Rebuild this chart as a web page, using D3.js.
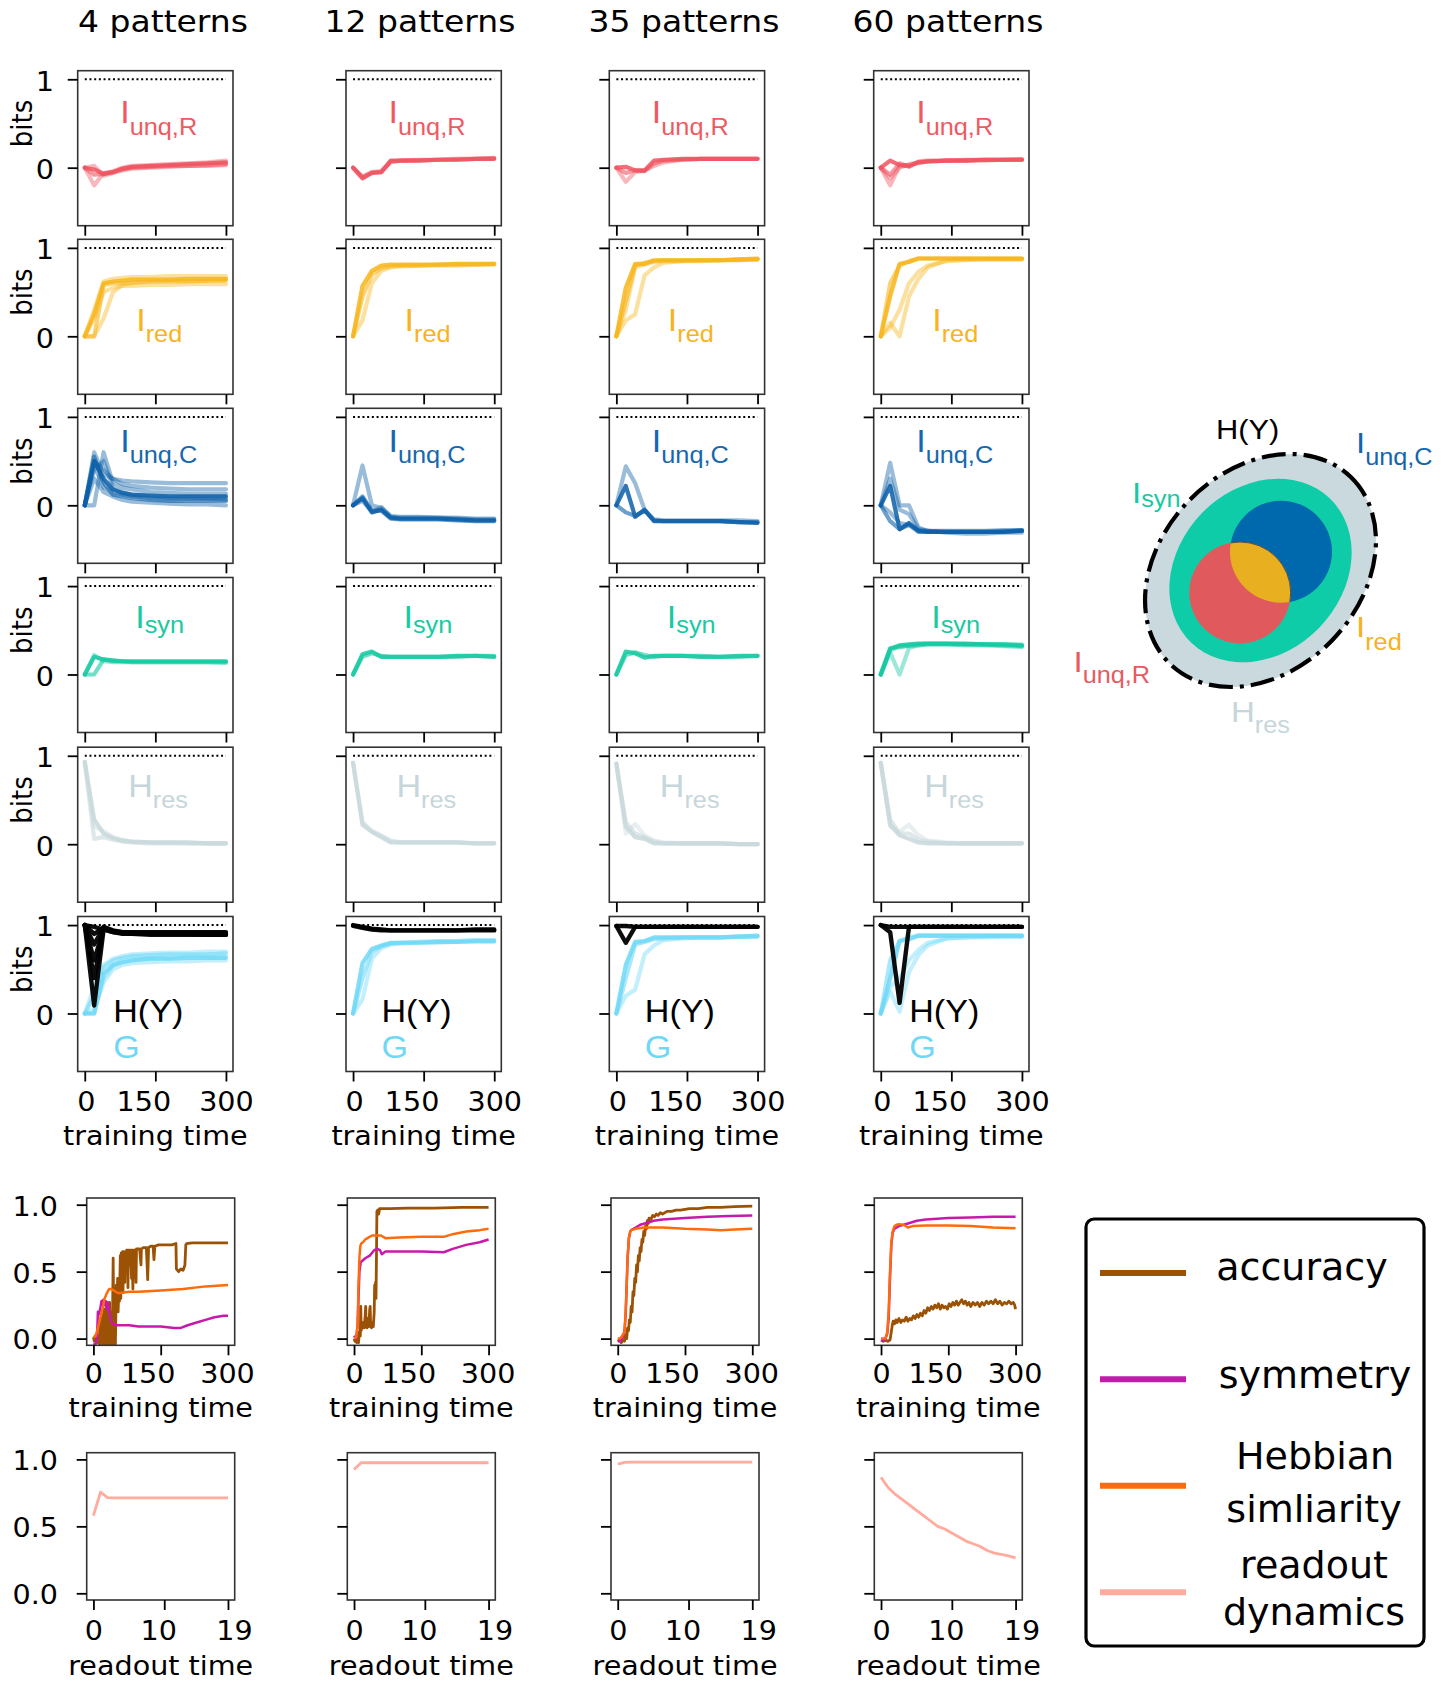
<!DOCTYPE html>
<html>
<head>
<meta charset="utf-8">
<script src="https://cdn.jsdelivr.net/npm/d3@7"></script>
<style>
  html, body { margin: 0; padding: 0; background: #fff; }
  svg { display: block; font-family: "DejaVu Sans", sans-serif; }
</style>
</head>
<body>
<script>
// ---------------- data ----------------
const PATTERNS = ["4 patterns", "12 patterns", "35 patterns", "60 patterns"];
const TRAIN_T = [0, 20, 40, 60, 80, 100, 140, 180, 220, 260, 300];
const TRAIN_TICKS = [0, 150, 300];
const READ_TICKS = [0, 10, 19];
const BIT_TICKS = [0, 1];
const FRAC_TICKS = [0, 0.5, 1.0];

// information decomposition per column (runs x TRAIN_T samples)
const I_UNQ_R = [
  [[0,-0.02,-0.07,-0.05,-0.01,0.01,0.02,0.03,0.04,0.05,0.06],
   [0,-0.08,-0.07,-0.05,-0.02,0.0,0.01,0.02,0.02,0.03,0.04],
   [0,0.02,-0.09,-0.06,-0.03,-0.01,0.0,0.01,0.02,0.02,0.03],
   [0,-0.2,-0.06,-0.04,0.0,0.02,0.03,0.04,0.05,0.06,0.08]],
  [[0,-0.12,-0.06,-0.05,0.08,0.08,0.08,0.09,0.09,0.1,0.1],
   [0,-0.1,-0.05,-0.04,0.07,0.08,0.09,0.09,0.1,0.1,0.11],
   [0,-0.11,-0.06,-0.05,0.06,0.08,0.08,0.09,0.09,0.1,0.1]],
  [[0,0.01,-0.03,-0.03,0.08,0.09,0.1,0.1,0.1,0.1,0.1],
   [0,-0.06,-0.03,-0.04,0.05,0.08,0.09,0.1,0.1,0.1,0.1],
   [0,-0.16,-0.05,-0.03,0.02,0.06,0.09,0.1,0.1,0.1,0.1]],
  [[0,0.08,0.03,0.02,0.06,0.07,0.08,0.08,0.09,0.09,0.09],
   [0,-0.08,0.05,0.01,0.07,0.08,0.08,0.09,0.09,0.09,0.09],
   [0,-0.12,0.0,0.04,0.06,0.07,0.08,0.08,0.09,0.09,0.1],
   [0,-0.2,0.02,0.03,0.05,0.07,0.08,0.08,0.08,0.09,0.09]]
];
const I_RED = [
  [[0,0.25,0.6,0.62,0.63,0.64,0.64,0.64,0.65,0.65,0.65],
   [0,0.0,0.58,0.6,0.6,0.61,0.62,0.62,0.62,0.63,0.63],
   [0,0.3,0.62,0.65,0.66,0.67,0.67,0.68,0.68,0.68,0.68],
   [0,0.2,0.5,0.55,0.57,0.57,0.58,0.58,0.59,0.59,0.59],
   [0,0.0,0.2,0.5,0.58,0.6,0.62,0.63,0.63,0.63,0.64]],
  [[0,0.57,0.74,0.8,0.81,0.81,0.81,0.81,0.82,0.82,0.82],
   [0,0.45,0.7,0.77,0.79,0.8,0.8,0.81,0.81,0.81,0.82],
   [0,0.18,0.6,0.74,0.78,0.79,0.8,0.8,0.8,0.81,0.81]],
  [[0,0.55,0.82,0.82,0.86,0.86,0.86,0.86,0.86,0.87,0.88],
   [0,0.4,0.8,0.83,0.85,0.86,0.86,0.86,0.86,0.87,0.87],
   [0,0.3,0.78,0.81,0.84,0.85,0.85,0.86,0.86,0.86,0.87],
   [0,0.18,0.25,0.69,0.78,0.83,0.85,0.85,0.86,0.86,0.87]],
  [[0,0.45,0.82,0.84,0.88,0.88,0.88,0.88,0.88,0.88,0.88],
   [0,0.6,0.8,0.85,0.88,0.88,0.88,0.88,0.88,0.88,0.88],
   [0,0.1,0.3,0.6,0.73,0.8,0.85,0.86,0.87,0.87,0.87],
   [0,0.15,0.0,0.45,0.65,0.78,0.86,0.87,0.87,0.87,0.87]]
];
const I_UNQ_C = [
  [[0,0.5,0.3,0.18,0.14,0.12,0.11,0.1,0.1,0.1,0.1],
   [0,0.55,0.25,0.12,0.1,0.08,0.06,0.05,0.05,0.05,0.05],
   [0,0.6,0.35,0.3,0.28,0.27,0.26,0.25,0.25,0.25,0.25],
   [0,0.5,0.4,0.3,0.24,0.22,0.2,0.19,0.18,0.18,0.18],
   [0,0.0,0.6,0.25,0.2,0.18,0.15,0.14,0.13,0.13,0.13],
   [0,0.45,0.2,0.15,0.12,0.1,0.08,0.07,0.07,0.07,0.06],
   [0,0.4,0.5,0.2,0.15,0.12,0.1,0.09,0.09,0.08,0.08],
   [0,0.3,0.15,0.1,0.06,0.04,0.03,0.02,0.01,0.01,0.0]],
  [[0,0.08,-0.08,-0.05,-0.14,-0.15,-0.15,-0.15,-0.16,-0.17,-0.17],
   [0,0.1,-0.06,-0.06,-0.15,-0.16,-0.16,-0.16,-0.17,-0.18,-0.18],
   [0,0.05,-0.07,-0.02,-0.13,-0.14,-0.14,-0.14,-0.15,-0.16,-0.16],
   [0,0.45,0.0,-0.03,-0.12,-0.13,-0.13,-0.14,-0.14,-0.15,-0.15]],
  [[0,0.22,-0.13,-0.05,-0.18,-0.18,-0.18,-0.18,-0.18,-0.19,-0.2],
   [0,-0.08,-0.12,-0.06,-0.17,-0.18,-0.18,-0.18,-0.18,-0.19,-0.19],
   [0,0.44,0.25,-0.05,-0.16,-0.17,-0.17,-0.17,-0.17,-0.17,-0.18]],
  [[0,0.22,-0.27,-0.2,-0.29,-0.3,-0.3,-0.3,-0.3,-0.3,-0.29],
   [0,-0.18,-0.27,-0.22,-0.3,-0.3,-0.3,-0.3,-0.3,-0.3,-0.28],
   [0,-0.08,-0.2,-0.22,-0.28,-0.29,-0.31,-0.32,-0.32,-0.31,-0.31],
   [0,0.3,-0.05,-0.1,-0.27,-0.29,-0.29,-0.29,-0.29,-0.28,-0.28],
   [0,0.48,0.0,0.0,-0.25,-0.29,-0.3,-0.3,-0.3,-0.29,-0.29]]
];
const I_SYN = [
  [[0,0.2,0.17,0.16,0.15,0.15,0.15,0.15,0.15,0.15,0.15],
   [0,0.0,0.17,0.15,0.15,0.14,0.14,0.14,0.14,0.14,0.14],
   [0,0.22,0.15,0.14,0.14,0.14,0.14,0.14,0.14,0.14,0.13]],
  [[0,0.23,0.26,0.2,0.2,0.2,0.2,0.2,0.21,0.21,0.2],
   [0,0.2,0.24,0.21,0.2,0.2,0.2,0.2,0.2,0.21,0.21]],
  [[0,0.26,0.24,0.19,0.21,0.21,0.21,0.2,0.2,0.21,0.21],
   [0,0.22,0.25,0.22,0.2,0.21,0.21,0.21,0.2,0.2,0.21]],
  [[0,0.29,0.33,0.34,0.35,0.35,0.35,0.35,0.34,0.34,0.33],
   [0,0.3,0.31,0.33,0.34,0.35,0.35,0.34,0.34,0.33,0.32],
   [0,0.27,0.32,0.32,0.33,0.34,0.34,0.34,0.34,0.34,0.34],
   [0,0.25,0.0,0.3,0.33,0.34,0.34,0.33,0.33,0.32,0.31]]
];
const H_RES = [
  [[0.93,0.28,0.12,0.07,0.04,0.03,0.02,0.02,0.02,0.01,0.01],
   [0.93,0.06,0.08,0.05,0.03,0.02,0.01,0.01,0.01,0.01,0.01],
   [0.93,0.2,0.15,0.08,0.05,0.03,0.02,0.02,0.01,0.01,0.01]],
  [[0.92,0.22,0.14,0.08,0.02,0.02,0.02,0.02,0.02,0.01,0.01],
   [0.92,0.25,0.15,0.1,0.04,0.02,0.02,0.02,0.02,0.01,0.01]],
  [[0.91,0.2,0.08,0.06,0.01,0.01,0.01,0.01,0.01,0.0,0.0],
   [0.91,0.25,0.12,0.08,0.03,0.01,0.01,0.01,0.01,0.0,0.0],
   [0.91,0.12,0.23,0.1,0.04,0.02,0.01,0.01,0.01,0.0,0.0]],
  [[0.92,0.22,0.1,0.06,0.02,0.01,0.01,0.01,0.01,0.01,0.01],
   [0.92,0.28,0.12,0.12,0.05,0.03,0.01,0.01,0.01,0.01,0.01],
   [0.92,0.2,0.14,0.22,0.1,0.04,0.02,0.01,0.01,0.01,0.01]]
];
const G_INFO = [
  [[0,0.0,0.45,0.55,0.58,0.6,0.62,0.62,0.63,0.63,0.63],
   [0,0.2,0.52,0.6,0.63,0.65,0.66,0.67,0.67,0.67,0.68],
   [0,0.05,0.35,0.5,0.55,0.57,0.58,0.59,0.59,0.6,0.6],
   [0,0.3,0.55,0.62,0.65,0.67,0.68,0.69,0.69,0.7,0.7],
   [0,0.0,0.4,0.54,0.6,0.62,0.63,0.64,0.65,0.65,0.65]],
  [[0,0.57,0.73,0.77,0.8,0.8,0.8,0.81,0.81,0.82,0.82],
   [0,0.4,0.7,0.76,0.79,0.8,0.81,0.82,0.82,0.83,0.83],
   [0,0.16,0.62,0.74,0.78,0.79,0.8,0.8,0.81,0.81,0.81]],
  [[0,0.55,0.81,0.82,0.86,0.86,0.86,0.86,0.86,0.87,0.88],
   [0,0.4,0.78,0.81,0.84,0.85,0.86,0.86,0.86,0.87,0.87],
   [0,0.2,0.27,0.67,0.77,0.83,0.85,0.86,0.86,0.87,0.87]],
  [[0,0.4,0.82,0.84,0.88,0.88,0.88,0.88,0.88,0.88,0.88],
   [0,0.6,0.82,0.86,0.88,0.88,0.88,0.88,0.88,0.88,0.88],
   [0,0.3,0.4,0.6,0.72,0.8,0.85,0.86,0.86,0.87,0.87],
   [0,0.25,0.02,0.47,0.66,0.77,0.85,0.86,0.87,0.87,0.87]]
];
const H_Y = [
  [[1.0,0.09,0.95,0.92,0.91,0.91,0.9,0.9,0.9,0.9,0.9],
   [1.0,0.4,0.97,0.93,0.92,0.91,0.91,0.91,0.91,0.91,0.91],
   [1.0,0.6,0.96,0.93,0.91,0.9,0.9,0.9,0.9,0.89,0.89],
   [1.0,0.78,0.98,0.94,0.92,0.92,0.92,0.92,0.92,0.92,0.92],
   [1.0,0.9,0.97,0.93,0.91,0.9,0.9,0.9,0.9,0.9,0.9],
   [1.0,0.98,0.95,0.92,0.9,0.9,0.89,0.89,0.89,0.89,0.89]],
  [[0.99,0.97,0.95,0.94,0.94,0.94,0.94,0.94,0.94,0.94,0.94],
   [1.0,0.98,0.96,0.95,0.94,0.94,0.94,0.94,0.94,0.95,0.95]],
  [[0.99,0.8,0.98,0.98,0.98,0.98,0.98,0.98,0.98,0.98,0.98],
   [0.99,0.99,0.98,0.98,0.98,0.98,0.98,0.98,0.98,0.98,0.98]],
  [[1.0,0.92,0.12,0.98,0.98,0.98,0.98,0.98,0.98,0.98,0.98],
   [1.0,0.98,0.98,0.98,0.98,0.98,0.98,0.98,0.98,0.98,0.98]]
];

// training metrics per column, [training time, value]
const ACCURACY = [
  [[0,0.01],[2,-0.02],[4,0.02],[6,-0.01],[8,0.01],[10,-0.03],[12,0.02],[13,-0.04],[15,0.12],[16,-0.04],[18,0.18],[19,0.0],[21,0.08],[22,-0.04],[24,0.22],[25,0.02],[27,-0.04],[29,0.27],[30,0.05],[31,-0.04],[33,0.15],[34,-0.04],[36,0.27],[37,0.02],[39,-0.04],[41,0.2],[42,-0.04],[44,0.6],[45,0.25],[46,-0.04],[48,0.32],[49,-0.04],[51,0.4],[52,0.22],[54,0.45],[55,0.2],[57,0.38],[58,0.28],[60,0.62],[61,0.3],[62,0.64],[63,0.45],[65,0.65],[66,0.35],[67,0.65],[69,0.64],[70,0.42],[71,0.65],[73,0.5],[74,0.66],[76,0.66],[77,0.38],[78,0.66],[80,0.55],[81,0.66],[83,0.66],[85,0.45],[86,0.66],[88,0.37],[89,0.66],[92,0.66],[95,0.42],[96,0.67],[100,0.67],[103,0.67],[106,0.55],[107,0.67],[112,0.68],[118,0.68],[121,0.44],[123,0.68],[128,0.69],[133,0.69],[135,0.59],[137,0.69],[145,0.7],[160,0.7],[175,0.7],[184,0.71],[185,0.52],[190,0.5],[195,0.52],[200,0.51],[204,0.55],[206,0.7],[208,0.71],[220,0.715],[250,0.715],[300,0.715]],
  [[0,0.0],[2,-0.02],[4,0.0],[6,-0.03],[8,0.02],[10,-0.03],[12,0.05],[14,0.02],[15,0.24],[16,0.06],[18,0.1],[19,0.08],[21,0.12],[23,0.08],[25,0.18],[26,0.24],[27,0.1],[29,0.08],[31,0.15],[33,0.09],[35,0.22],[36,0.24],[37,0.1],[39,0.08],[41,0.12],[43,0.09],[45,0.2],[46,0.4],[47,0.3],[48,0.42],[49,0.3],[50,0.6],[51,0.95],[53,0.96],[55,0.93],[57,0.97],[60,0.97],[80,0.97],[120,0.975],[180,0.975],[240,0.98],[300,0.98]],
  [[0,-0.02],[4,-0.01],[8,-0.03],[12,-0.01],[15,-0.02],[18,0.03],[20,0.0],[22,0.08],[24,0.06],[26,0.14],[28,0.12],[30,0.24],[32,0.2],[34,0.35],[36,0.32],[38,0.45],[40,0.42],[42,0.55],[44,0.5],[46,0.62],[48,0.58],[50,0.68],[52,0.65],[54,0.74],[56,0.72],[58,0.8],[60,0.77],[62,0.84],[64,0.82],[66,0.88],[68,0.86],[70,0.9],[74,0.89],[78,0.92],[82,0.91],[86,0.93],[90,0.92],[95,0.94],[100,0.93],[110,0.95],[120,0.95],[130,0.96],[140,0.96],[160,0.97],[180,0.97],[200,0.98],[230,0.98],[260,0.985],[300,0.99]],
  [[0,-0.01],[5,-0.02],[10,-0.01],[15,-0.02],[20,-0.01],[22,0.03],[25,0.1],[27,0.13],[30,0.11],[33,0.14],[36,0.12],[40,0.15],[44,0.12],[48,0.14],[52,0.13],[56,0.16],[60,0.13],[64,0.15],[68,0.14],[72,0.17],[76,0.15],[80,0.18],[84,0.16],[88,0.19],[92,0.17],[96,0.21],[100,0.19],[104,0.23],[108,0.21],[112,0.24],[116,0.22],[120,0.25],[124,0.23],[128,0.26],[132,0.22],[136,0.25],[140,0.23],[144,0.24],[148,0.22],[152,0.26],[156,0.24],[160,0.27],[164,0.25],[168,0.28],[172,0.25],[176,0.27],[180,0.29],[184,0.26],[188,0.28],[192,0.25],[196,0.27],[200,0.24],[205,0.27],[210,0.25],[215,0.27],[220,0.24],[225,0.27],[230,0.25],[235,0.28],[240,0.26],[245,0.28],[250,0.26],[255,0.29],[260,0.26],[265,0.28],[270,0.25],[275,0.27],[280,0.26],[285,0.28],[290,0.26],[295,0.27],[298,0.25],[300,0.22]]
];
const SYMMETRY = [
  [[0,-0.04],[5,-0.04],[8,0.0],[10,0.2],[12,0.18],[15,0.22],[18,0.28],[20,0.26],[22,0.29],[25,0.25],[28,0.28],[30,0.22],[32,0.27],[35,0.2],[38,0.15],[40,0.13],[43,0.11],[45,0.11],[50,0.1],[60,0.1],[80,0.1],[100,0.09],[120,0.09],[150,0.09],[180,0.08],[195,0.08],[210,0.1],[230,0.12],[250,0.14],[270,0.16],[290,0.17],[300,0.17]],
  [[0,0.02],[5,0.0],[8,0.1],[10,0.3],[12,0.5],[15,0.57],[18,0.58],[25,0.6],[35,0.62],[45,0.66],[52,0.67],[58,0.66],[62,0.63],[70,0.65],[100,0.65],[150,0.65],[200,0.645],[220,0.67],[250,0.7],[280,0.72],[300,0.74]],
  [[0,-0.02],[5,-0.02],[10,0.0],[15,0.05],[18,0.2],[20,0.4],[22,0.6],[25,0.75],[28,0.8],[30,0.81],[40,0.83],[50,0.85],[60,0.86],[80,0.88],[100,0.89],[150,0.9],[200,0.91],[250,0.915],[300,0.92]],
  [[0,-0.01],[5,-0.01],[10,0.0],[14,0.04],[17,0.15],[20,0.45],[23,0.7],[26,0.79],[30,0.82],[35,0.83],[40,0.84],[60,0.86],[80,0.88],[100,0.89],[150,0.9],[200,0.905],[250,0.91],[300,0.91]]
];
const HEBBIAN = [
  [[0,0.01],[5,0.02],[10,0.08],[15,0.15],[20,0.22],[25,0.3],[30,0.34],[35,0.37],[40,0.37],[45,0.36],[50,0.35],[55,0.34],[60,0.34],[80,0.35],[100,0.35],[150,0.36],[200,0.37],[250,0.39],[300,0.4]],
  [[0,0.0],[5,0.01],[8,0.1],[10,0.4],[12,0.6],[14,0.69],[16,0.71],[20,0.72],[25,0.74],[30,0.75],[40,0.77],[50,0.77],[60,0.77],[70,0.75],[100,0.755],[150,0.76],[200,0.76],[220,0.78],[250,0.8],[280,0.81],[300,0.82]],
  [[0,0.0],[5,0.0],[10,0.02],[15,0.05],[17,0.15],[20,0.4],[22,0.6],[25,0.76],[28,0.8],[30,0.81],[40,0.82],[60,0.83],[100,0.83],[150,0.82],[200,0.815],[230,0.81],[260,0.815],[300,0.82]],
  [[0,0.0],[5,0.0],[10,0.0],[14,0.05],[17,0.2],[20,0.5],[23,0.72],[26,0.8],[30,0.84],[35,0.85],[40,0.855],[50,0.85],[60,0.83],[70,0.84],[100,0.845],[150,0.845],[200,0.84],[250,0.83],[300,0.825]]
];
// readout dynamics per column, one value per readout step 0..19
const READOUT = [
  [0.58,0.755,0.715,0.713,0.712,0.712,0.712,0.712,0.712,0.712,0.712,0.712,0.712,0.712,0.712,0.712,0.712,0.712,0.712,0.712],
  [0.925,0.975,0.975,0.975,0.975,0.975,0.975,0.975,0.975,0.975,0.975,0.975,0.975,0.975,0.975,0.975,0.975,0.975,0.975,0.975],
  [0.965,0.977,0.98,0.98,0.98,0.98,0.98,0.98,0.98,0.98,0.98,0.98,0.98,0.98,0.98,0.98,0.98,0.98,0.98,0.98],
  [0.866,0.79,0.74,0.7,0.66,0.62,0.58,0.54,0.5,0.48,0.45,0.42,0.39,0.37,0.35,0.32,0.3,0.29,0.28,0.265]
];
const LEGEND_LABELS = [["accuracy"], ["symmetry"], ["Hebbian", "simliarity"], ["readout", "dynamics"]];

// ---------------- styling / layout ----------------
const C = {
  unqR: "#ef5460", red: "#f7b51b", unqC: "#0c5fa8", syn: "#13c9a1", res: "#c8d8dc",
  g: "#6fd8f7", hy: "#000000",
  acc: "#9b5205", sym: "#c71aab", heb: "#ff6b0a", ro: "#ffab9d"
};
const SX = 1.1;                       // horizontal text stretch for the figure
const LABEL_FONT = "'Liberation Sans', Arial, sans-serif";
const COL_X = [77.7, 346, 609.3, 873.7];
const ROW_Y = [70.7, 239.3, 408.3, 577.5, 747.2, 916.5];
const PW = 155.3, PH = 155;
const BCOL_X = [86.7, 347.3, 611, 874.3];
const BW = 148, BH = 147.3;
const ACC_Y = 1198, RO_Y = 1452.7;
const TITLE_CX = [163, 420, 684, 948];
const TRAIN_LABEL_SHIFT = [1, -12, 0];
const READ_LABEL_SHIFT = [0, -6, 6];
const RUN_OPACITY = [0.85, 0.6, 0.42];

const svg = d3.select("body").append("svg")
  .attr("width", 1451).attr("height", 1682);

function sText(parent, x, y, str, size, opt = {}) {
  const t = parent.append("text")
    .attr("transform", `translate(${x},${y}) scale(${SX},1)` + (opt.rotate ? ` rotate(${opt.rotate})` : ""))
    .attr("font-size", size)
    .attr("text-anchor", opt.anchor || "start")
    .attr("fill", opt.fill || "#000")
    .text(str);
  if (opt.family) t.attr("font-family", opt.family);
  return t;
}

function subLabel(parent, x, y, main, sub, color, mainSize, subSize, shift) {
  const t = parent.append("text")
    .attr("transform", `translate(${x},${y}) scale(${SX},1)`)
    .attr("font-family", LABEL_FONT).attr("fill", color);
  t.append("tspan").attr("font-size", mainSize).text(main);
  t.append("tspan").attr("font-size", subSize).attr("dy", shift).text(sub);
}

function styleAxis(ax, size) {
  ax.attr("font-size", size).attr("font-family", "DejaVu Sans");
  ax.select(".domain").remove();
  ax.selectAll(".tick line").attr("stroke", "#000").attr("stroke-width", 1.8);
  ax.selectAll(".tick text").attr("fill", "#000");
}

let clipCount = 0;
function frame(x0, y0, w, h) {
  const id = "clip" + (clipCount++);
  svg.append("clipPath").attr("id", id)
    .append("rect").attr("x", x0).attr("y", y0).attr("width", w).attr("height", h);
  return id;
}

// ---------------- titles ----------------
PATTERNS.forEach((p, c) => sText(svg, TITLE_CX[c], 31.7, p, 30, { anchor: "middle" }));

// ---------------- information panels ----------------
const ROWS = [
  { series: [{ runs: I_UNQ_R, color: C.unqR }], labels: [{ main: "I", sub: "unq,R", dx: 42.5, dy: 52, shift: 12, color: "#ef5a62" }] },
  { series: [{ runs: I_RED, color: C.red }], labels: [{ main: "I", sub: "red", dx: 58.5, dy: 91.5, shift: 11.6, color: "#f6b421" }] },
  { series: [{ runs: I_UNQ_C, color: C.unqC }], labels: [{ main: "I", sub: "unq,C", dx: 42.5, dy: 43.5, shift: 11, color: "#1767ae" }] },
  { series: [{ runs: I_SYN, color: C.syn }], labels: [{ main: "I", sub: "syn", dx: 57.5, dy: 50.5, shift: 5, color: "#18c9a2" }] },
  { series: [{ runs: H_RES, color: C.res }], labels: [{ main: "H", sub: "res", dx: 50.5, dy: 49.5, shift: 11.6, color: "#c6d6db" }] },
  { series: [{ runs: G_INFO, color: C.g }, { runs: H_Y, color: C.hy, solid: true }],
    labels: [{ main: "H(Y)", sub: "", dx: 35.5, dy: 105, shift: 0, color: "#000" },
             { main: "G", sub: "", dx: 35.5, dy: 141.5, shift: 0, color: C.g }] }
];

ROWS.forEach((row, r) => {
  const y0 = ROW_Y[r];
  const last = r === ROWS.length - 1;
  COL_X.forEach((x0, c) => {
    const x = d3.scaleLinear().domain([-15, 315]).range([x0, x0 + PW]);
    const y = d3.scaleLinear().domain([-0.656, 1.097]).range([y0 + PH, y0]);
    const g = svg.append("g");
    const plot = g.append("g").attr("clip-path", `url(#${frame(x0, y0, PW, PH)})`);
    const line = d3.line().x((d, i) => x(TRAIN_T[i])).y(d => y(d));

    row.series.forEach(s => {
      const runs = s.runs[c];
      // paint the lighter runs first so the main run sits on top
      runs.map((run, i) => ({ run, i })).reverse().forEach(({ run, i }) => {
        plot.append("path").attr("d", line(run))
          .attr("fill", "none").attr("stroke", s.color)
          .attr("stroke-width", s.solid ? 4.4 : 4.2)
          .attr("stroke-linejoin", "round").attr("stroke-linecap", "round")
          .attr("stroke-opacity", s.solid ? 0.95 : RUN_OPACITY[Math.min(i, RUN_OPACITY.length - 1)]);
      });
    });

    // reference level of 1 bit
    plot.append("line")
      .attr("x1", x(0)).attr("x2", x(300)).attr("y1", y(1)).attr("y2", y(1))
      .attr("stroke", "#000").attr("stroke-width", 2).attr("stroke-dasharray", "2 2.7");

    g.append("rect").attr("x", x0).attr("y", y0).attr("width", PW).attr("height", PH)
      .attr("fill", "none").attr("stroke", "#333").attr("stroke-width", 1.6);

    const ax = g.append("g").attr("transform", `translate(0,${y0 + PH})`)
      .call(d3.axisBottom(x).tickValues(TRAIN_TICKS).tickSize(10)
        .tickFormat(last ? d3.format("d") : () => ""));
    styleAxis(ax, 26);
    ax.selectAll(".tick text").attr("y", null).attr("dy", null)
      .attr("transform", (d, i) => `translate(${TRAIN_LABEL_SHIFT[i]},39) scale(${SX},1)`);

    const ay = g.append("g").attr("transform", `translate(${x0},0)`)
      .call(d3.axisLeft(y).tickValues(BIT_TICKS).tickSize(10)
        .tickFormat(c === 0 ? d3.format("d") : () => ""));
    styleAxis(ay, 26);
    ay.selectAll(".tick text").attr("x", null).attr("dy", "0.36em")
      .attr("transform", `translate(${54 - x0},1.5) scale(${SX},1)`);

    if (c === 0) {
      sText(g, 22, (y(0) + y(1)) / 2, "bits", 26, { anchor: "middle", rotate: -90 })
        .attr("dy", "0.35em");
    }
    row.labels.forEach(l => {
      subLabel(g, x0 + l.dx, y0 + l.dy, l.main, l.sub, l.color, 31, 23, l.shift);
    });
    if (last) {
      sText(g, x0 + PW / 2, y0 + PH + 73, "training time", 26, { anchor: "middle" });
    }
  });
});

// ---------------- training metrics ----------------
const METRICS = [
  { data: ACCURACY, color: C.acc, width: 2.8 },
  { data: SYMMETRY, color: C.sym, width: 2.5 },
  { data: HEBBIAN, color: C.heb, width: 2.5 }
];

BCOL_X.forEach((x0, c) => {
  const x = d3.scaleLinear().domain([-15, 315]).range([x0, x0 + BW]);
  const y = d3.scaleLinear().domain([-0.05, 1.05]).range([ACC_Y + BH, ACC_Y]);
  const g = svg.append("g");
  const plot = g.append("g").attr("clip-path", `url(#${frame(x0, ACC_Y, BW, BH)})`);
  const line = d3.line().x(d => x(d[0])).y(d => y(d[1]));
  METRICS.forEach(m => {
    plot.append("path").attr("d", line(m.data[c]))
      .attr("fill", "none").attr("stroke", m.color).attr("stroke-width", m.width)
      .attr("stroke-linejoin", "round");
  });
  g.append("rect").attr("x", x0).attr("y", ACC_Y).attr("width", BW).attr("height", BH)
    .attr("fill", "none").attr("stroke", "#333").attr("stroke-width", 1.6);

  const ax = g.append("g").attr("transform", `translate(0,${ACC_Y + BH})`)
    .call(d3.axisBottom(x).tickValues(TRAIN_TICKS).tickSize(10).tickFormat(d3.format("d")));
  styleAxis(ax, 26);
  ax.selectAll(".tick text").attr("y", null).attr("dy", null)
    .attr("transform", (d, i) => `translate(${TRAIN_LABEL_SHIFT[i] - 1},37.5) scale(${SX},1)`);

  const ay = g.append("g").attr("transform", `translate(${x0},0)`)
    .call(d3.axisLeft(y).tickValues(FRAC_TICKS).tickSize(10)
      .tickFormat(c === 0 ? d3.format(".1f") : () => ""));
  styleAxis(ay, 26);
  ay.selectAll(".tick text").attr("x", null).attr("dy", "0.36em")
    .attr("transform", `translate(${58 - x0},1) scale(${SX},1)`);

  sText(g, x0 + BW / 2, ACC_Y + BH + 72, "training time", 26, { anchor: "middle" });
});

// ---------------- readout dynamics ----------------
BCOL_X.forEach((x0, c) => {
  const x = d3.scaleLinear().domain([-0.95, 19.95]).range([x0, x0 + BW]);
  const y = d3.scaleLinear().domain([-0.05, 1.05]).range([RO_Y + BH, RO_Y]);
  const g = svg.append("g");
  const plot = g.append("g").attr("clip-path", `url(#${frame(x0, RO_Y, BW, BH)})`);
  const line = d3.line().x((d, i) => x(i)).y(d => y(d));
  plot.append("path").attr("d", line(READOUT[c]))
    .attr("fill", "none").attr("stroke", C.ro).attr("stroke-width", 2.8)
    .attr("stroke-linejoin", "round");
  g.append("rect").attr("x", x0).attr("y", RO_Y).attr("width", BW).attr("height", BH)
    .attr("fill", "none").attr("stroke", "#333").attr("stroke-width", 1.6);

  const ax = g.append("g").attr("transform", `translate(0,${RO_Y + BH})`)
    .call(d3.axisBottom(x).tickValues(READ_TICKS).tickSize(10).tickFormat(d3.format("d")));
  styleAxis(ax, 26);
  ax.selectAll(".tick text").attr("y", null).attr("dy", null)
    .attr("transform", (d, i) => `translate(${READ_LABEL_SHIFT[i]},40) scale(${SX},1)`);

  const ay = g.append("g").attr("transform", `translate(${x0},0)`)
    .call(d3.axisLeft(y).tickValues(FRAC_TICKS).tickSize(10)
      .tickFormat(c === 0 ? d3.format(".1f") : () => ""));
  styleAxis(ay, 26);
  ay.selectAll(".tick text").attr("x", null).attr("dy", "0.36em")
    .attr("transform", `translate(${58 - x0},1) scale(${SX},1)`);

  sText(g, x0 + BW / 2, RO_Y + BH + 75, "readout time", 26, { anchor: "middle" });
});

// ---------------- decomposition diagram ----------------
const dg = svg.append("g");
const ell = dg.append("g").attr("transform", "translate(1260.5,570.5) rotate(-46)");
ell.append("ellipse").attr("rx", 130).attr("ry", 100).attr("fill", "#c9d9dd");
ell.append("ellipse").attr("rx", 100).attr("ry", 82).attr("fill", "#0fcca8");
dg.append("circle").attr("cx", 1281).attr("cy", 551.7).attr("r", 51).attr("fill", "#0068ac");
dg.append("circle").attr("cx", 1240).attr("cy", 592.7).attr("r", 50.7).attr("fill", "#e05a5d");
dg.append("clipPath").attr("id", "blueDisc")
  .append("circle").attr("cx", 1281).attr("cy", 551.7).attr("r", 51);
dg.append("circle").attr("cx", 1240).attr("cy", 592.7).attr("r", 50.7)
  .attr("clip-path", "url(#blueDisc)")
  .attr("fill", "#e8b020").attr("stroke", "#5a5040").attr("stroke-width", 1);
ell.append("ellipse").attr("rx", 130).attr("ry", 100).attr("fill", "none")
  .attr("stroke", "#000").attr("stroke-width", 4.2).attr("stroke-dasharray", "24 7 4 7");

sText(dg, 1216, 439.3, "H(Y)", 28, { family: LABEL_FONT });
subLabel(dg, 1356, 453.3, "I", "unq,C", "#1565ac", 30, 23, 11.7);
subLabel(dg, 1132, 502.7, "I", "syn", "#17c9a3", 30, 23, 4);
subLabel(dg, 1356, 637.3, "I", "red", "#f4b223", 30, 23, 12.7);
subLabel(dg, 1073.5, 671.7, "I", "unq,R", "#e85a62", 30, 23, 11.6);
subLabel(dg, 1231, 721.7, "H", "res", "#c6d6db", 30, 23, 11.6);

// ---------------- legend ----------------
const LEG_LINE_Y = [1273, 1379.3, 1485.7, 1592.3];
const LEG_TEXT = [
  [[1302, 1280]],
  [[1315, 1388]],
  [[1315, 1469], [1314, 1522]],
  [[1314, 1578], [1314, 1625]]
];
const LEG_COLORS = [C.acc, C.sym, C.heb, C.ro];
const leg = svg.append("g");
leg.append("rect").attr("x", 1086).attr("y", 1219).attr("width", 338).attr("height", 427)
  .attr("rx", 8).attr("fill", "#fff").attr("stroke", "#000").attr("stroke-width", 3.2);
LEGEND_LABELS.forEach((lines, i) => {
  leg.append("line").attr("x1", 1100).attr("x2", 1186)
    .attr("y1", LEG_LINE_Y[i]).attr("y2", LEG_LINE_Y[i])
    .attr("stroke", LEG_COLORS[i]).attr("stroke-width", 6);
  lines.forEach((txt, j) => {
    leg.append("text").attr("x", LEG_TEXT[i][j][0]).attr("y", LEG_TEXT[i][j][1])
      .attr("text-anchor", "middle").attr("font-size", 38).attr("fill", "#000").text(txt);
  });
});
</script>
</body>
</html>
